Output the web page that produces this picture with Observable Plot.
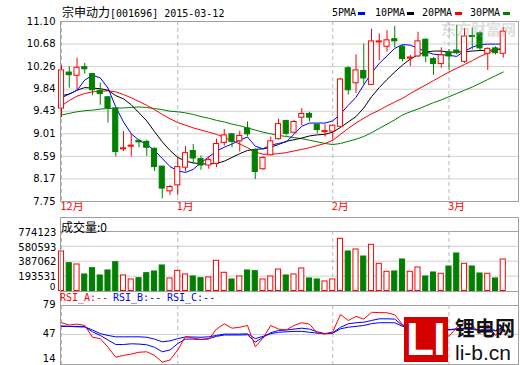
<!DOCTYPE html>
<html><head><meta charset="utf-8">
<script src="https://cdn.jsdelivr.net/npm/d3@7"></script>
<script src="https://cdn.jsdelivr.net/npm/@observablehq/plot@0.6"></script>
<style>
body{margin:0;background:#fff;}
#c{position:relative;width:520px;height:365px;overflow:hidden;background:#fff;}
#c svg{position:absolute;left:0;background:transparent;}
.box{position:absolute;border:1px solid #a0a0a0;box-sizing:border-box;}
.t{position:absolute;white-space:nowrap;font-family:"DejaVu Sans Mono",monospace;font-size:10px;line-height:12px;color:#000;}
.cn{font-family:"Noto Sans CJK SC",sans-serif;font-size:12px;}
.dash{position:absolute;width:7px;height:3px;}
</style></head><body><div id="c"></div>
<script>
// ---- data ----
const monthLabels = ["12月","1月","2月","3月"];
const monthStart = [0, 15, 35, 50];
const open  = [9.48,10.15,10.09,10.25,10.12,9.81,9.69,9.48,8.72,8.77,
               8.88,8.86,8.73,8.40,7.94,8.05,8.38,8.69,8.54,8.42,
               8.45,8.84,9.00,8.87,9.11,8.70,8.35,8.61,8.91,9.25,
               9.03,9.31,9.38,9.18,9.04,9.05,9.14,10.23,9.95,10.18,
               9.92,10.71,10.63,10.77,10.63,10.41,10.45,10.76,10.40,10.31,
               10.52,10.56,10.35,10.83,10.88,10.50,10.60,10.50];
const close = [10.19,10.10,10.24,10.21,9.82,9.75,9.49,8.67,8.74,8.79,
               8.85,8.75,8.39,7.99,8.02,8.39,8.65,8.55,8.42,8.52,
               8.82,8.98,8.86,8.97,9.00,8.30,8.56,8.87,9.19,9.01,
               9.23,9.38,9.31,9.08,9.06,9.16,10.02,9.82,10.19,10.04,
               10.73,10.73,10.75,10.73,10.40,10.43,10.73,10.45,10.31,10.47,
               10.45,10.51,10.82,10.81,10.60,10.59,10.51,10.91];
const high  = [10.28,10.26,10.42,10.32,10.13,9.95,9.70,9.49,9.05,9.01,
               8.90,8.89,8.75,8.40,8.05,8.55,8.77,8.81,8.60,8.58,
               8.91,9.09,9.01,9.06,9.23,8.73,8.58,8.95,9.28,9.26,
               9.26,9.48,9.41,9.20,9.18,9.18,10.04,10.26,10.48,10.68,
               10.96,10.87,10.93,11.01,10.66,10.47,10.90,10.78,10.43,10.61,
               10.58,11.03,10.97,10.98,10.91,10.61,10.63,10.99];
const low   = [9.31,9.86,9.82,10.12,9.72,9.54,9.21,8.58,8.68,8.58,
               8.75,8.59,8.31,7.80,7.86,7.86,8.30,8.44,8.33,8.35,
               8.38,8.78,8.75,8.67,8.95,8.16,8.33,8.60,8.89,8.97,
               9.01,9.16,9.23,9.01,8.95,8.89,9.12,9.73,9.76,9.92,
               9.92,10.37,10.53,10.61,10.35,10.26,10.43,10.33,10.10,10.23,
               10.19,10.48,10.32,10.57,10.56,10.19,10.48,10.42];
const volume = [514000,362000,345000,215000,297000,202000,267000,375000,202000,150000,
                167000,232000,254000,332000,163000,262000,215000,189000,167000,176000,
                393000,237000,150000,189000,267000,258000,150000,189000,280000,202000,
                215000,293000,163000,150000,124000,150000,679000,514000,540000,449000,
                601000,354000,250000,254000,410000,250000,306000,189000,241000,224000,
                319000,488000,354000,319000,228000,224000,163000,410000];
const ma5  = [9.68,9.75,9.82,10.01,10.10,10.05,9.86,9.51,9.23,9.01,
              8.89,8.81,8.70,8.55,8.40,8.32,8.29,8.35,8.47,8.58,
              8.69,8.76,8.82,8.89,8.95,8.78,8.73,8.80,8.83,8.86,
              9.00,9.15,9.21,9.21,9.21,9.25,9.38,9.54,9.69,9.92,
              10.14,10.32,10.46,10.60,10.67,10.66,10.60,10.54,10.49,10.48,
              10.47,10.45,10.55,10.62,10.67,10.68,10.68,10.68];
const ma10 = [9.72,9.75,9.82,9.87,9.86,9.85,9.82,9.72,9.66,9.55,
              9.40,9.25,9.05,8.86,8.70,8.57,8.50,8.47,8.45,8.45,
              8.46,8.50,8.57,8.64,8.70,8.72,8.73,8.76,8.81,8.87,
              8.90,8.93,8.97,8.99,9.00,9.04,9.13,9.23,9.33,9.49,
              9.70,9.87,10.02,10.16,10.29,10.40,10.48,10.53,10.55,10.55,
              10.53,10.53,10.54,10.55,10.56,10.56,10.58,10.59];
const ma20 = [9.53,9.63,9.71,9.76,9.79,9.80,9.81,9.79,9.74,9.68,
              9.61,9.54,9.46,9.37,9.29,9.22,9.17,9.12,9.08,9.04,
              9.00,8.94,8.88,8.82,8.75,8.67,8.63,8.63,8.64,8.66,
              8.69,8.72,8.75,8.79,8.83,8.89,9.00,9.11,9.21,9.30,
              9.38,9.45,9.53,9.60,9.67,9.76,9.84,9.92,10.00,10.08,
              10.16,10.23,10.30,10.37,10.45,10.51,10.57,10.60];
const ma30 = [9.36,9.39,9.42,9.44,9.45,9.47,9.48,9.49,9.49,9.50,
              9.51,9.50,9.48,9.46,9.43,9.42,9.40,9.37,9.33,9.30,
              9.26,9.23,9.19,9.16,9.12,9.08,9.04,9.01,8.98,8.96,
              8.94,8.92,8.89,8.86,8.83,8.81,8.83,8.87,8.91,8.96,
              9.03,9.11,9.19,9.27,9.36,9.42,9.47,9.53,9.59,9.64,
              9.70,9.76,9.82,9.88,9.95,10.02,10.09,10.16];
const rsiA = [60,57.5,58.5,57,44,42.5,33,22,24,25.5,
              27.5,28,24,16.6,19,30,45,43,41.6,42,
              53,58.8,54,55,57,33.5,43,57,53,52,
              57,60,58.5,48.5,47.8,50,69,62.5,67,64,
              71.5,71.2,71,68.8,58,53.3,55.5,52,50,52,
              45,55,60,57,48,58,46,55];
const rsiB = [56.5,56,56,55.5,50,46,41,36,36,36.8,
              36.5,35.7,33,28,30,37,42,42,41.6,42.5,
              45,46.5,46.5,46.5,46.7,38.6,44,49,51.5,52,
              53,54,53,50,48,49,55,58.8,60,60.6,
              62.5,64.3,64.3,64,57,55.5,55,54,53.5,53.3,
              52,53.3,54,53.5,52,53.3,51.5,55];
const rsiC = [56,56,55.5,55.5,52,48,46,44.5,44.5,44.5,
              44.5,44,42,39,40,42.5,44.3,44.3,44,44.5,
              46,47.5,47.5,47.5,47.8,42.5,45,48,49.5,50,
              50.5,50.5,49.5,48.5,47.8,48.5,53.3,55.1,56,57,
              59,60,60,60,56,55,54.5,54,53.5,53.3,
              52.5,53,53,52.6,51.5,52,51,53.3];
const priceTicks = [7.75,8.17,8.59,9.01,9.43,9.84,10.26,10.68,11.10];
const volTicks = [0,193531,387062,580593,774123];
const rsiTicks = [14,47,79];

// ---- build ----
const UP = "#ff0000", DOWN = "#008000";
const bars = open.map((o,i)=>({i, o, c:close[i], h:high[i], l:low[i], v:volume[i], up: close[i] >= open[i]}));
const series = (arr, name) => arr.map((v,i)=>({i, v, name}));
const months = monthStart.map((m,k)=>({i:m, label:monthLabels[k]}));
const xDomain = [(60-61)/7.75, (518-61)/7.75];
const hw = 0.33;
const col = d => d.up ? UP : DOWN;
const container = document.getElementById("c");

const common = {width:520, marginLeft:60, marginRight:2,
  x:{domain:xDomain, axis:null}, color:{type:"identity"}};

const price = Plot.plot({...common, height:216, marginTop:21, marginBottom:15,
  y:{domain:[7.75,11.10], axis:null},
  style:{background:"transparent", overflow:"visible"},
  marks:[
    Plot.ruleY(priceTicks, {stroke:"#d0d0d0"}),
    Plot.ruleX(monthStart, {stroke:"#b8b8b8", strokeDasharray:"4,3"}),
    Plot.line(series(ma30), {x:"i", y:"v", stroke:"#008000", strokeWidth:1}),
    Plot.line(series(ma20), {x:"i", y:"v", stroke:"#ff0000", strokeWidth:1}),
    Plot.line(series(ma10), {x:"i", y:"v", stroke:"#000000", strokeWidth:1}),
    Plot.line(series(ma5),  {x:"i", y:"v", stroke:"#0000ff", strokeWidth:1}),
    Plot.ruleX(bars, {x:"i", y1:"l", y2:"h", stroke:col, strokeWidth:1}),
    Plot.rect(bars, {x1:d=>d.i-hw, x2:d=>d.i+hw, y1:"o", y2:"c", fill:d=>d.up?"#ffffff":DOWN, stroke:col, strokeWidth:1}),
    Plot.text(priceTicks, {y:d=>d, text:d=>d.toFixed(2), frameAnchor:"left", textAnchor:"end", dx:-5,
      fontFamily:"DejaVu Sans", fontSize:10, fill:"#000"}),
    Plot.text(months, {x:"i", text:"label", frameAnchor:"bottom", dy:8, dx:-1, textAnchor:"start",
      fill:"#ff0000", fontFamily:"Noto Sans CJK SC", fontSize:11})
  ]});
price.style.top = "0px";
container.appendChild(price);

const vol = Plot.plot({...common, height:74, marginTop:14, marginBottom:0.5,
  y:{domain:[0,774123], axis:null},
  style:{background:"transparent", overflow:"visible"},
  marks:[
    Plot.ruleY(volTicks.slice(1,4), {stroke:"#d0d0d0"}),
    Plot.ruleY([volTicks[4]], {stroke:"#a0a0a0"}),
    Plot.ruleX(monthStart, {stroke:"#b8b8b8", strokeDasharray:"4,3"}),
    Plot.rect(bars, {x1:d=>d.i-hw, x2:d=>d.i+hw, y1:0, y2:"v", fill:d=>d.up?"#ffffff":DOWN, stroke:col, strokeWidth:1}),
    Plot.text(volTicks.slice(1), {y:d=>d, text:d=>String(d), frameAnchor:"left", textAnchor:"end", dx:-4, dy:1,
      fontFamily:"DejaVu Sans", fontSize:10, fill:"#000", letterSpacing:"1.8px"}),
    Plot.text([0], {y:d=>d, text:d=>String(d), frameAnchor:"left", textAnchor:"end", dx:-5, dy:-4,
      fontFamily:"DejaVu Sans", fontSize:9, fill:"#000"})
  ]});
vol.style.top = "217px";
container.appendChild(vol);

const rsiData = [...series(rsiC,"C"), ...series(rsiB,"B")];
const rsi = Plot.plot({...common, height:74, marginTop:14, marginBottom:1,
  y:{domain:[14,79], axis:null},
  style:{background:"transparent", overflow:"visible"},
  marks:[
    Plot.ruleY([47], {stroke:"#d0d0d0"}),
    Plot.ruleY([79], {stroke:"#a0a0a0"}),
    Plot.ruleX(monthStart, {stroke:"#b8b8b8", strokeDasharray:"4,3"}),
    Plot.line(rsiData, {x:"i", y:"v", z:"name", stroke:"#0000ff", strokeWidth:1}),
    Plot.line(series(rsiA), {x:"i", y:"v", stroke:"#ff0000", strokeWidth:1}),
    Plot.text(rsiTicks.slice(1), {y:d=>d, text:d=>String(d), frameAnchor:"left", textAnchor:"end", dx:-5, dy:-1,
      fontFamily:"DejaVu Sans", fontSize:10, fill:"#000", letterSpacing:"3px"}),
    Plot.text(rsiTicks.slice(0,1), {y:d=>d, text:d=>String(d), frameAnchor:"left", textAnchor:"end", dx:-5, dy:-6,
      fontFamily:"DejaVu Sans", fontSize:10, fill:"#000", letterSpacing:"3px"})
  ]});
rsi.style.top = "291px";
container.appendChild(rsi);

// ---- frames, titles, legend, watermark ----
function add(html){ container.insertAdjacentHTML("beforeend", html); }
add('<div class="t" style="left:441px;top:20px;font-family:\'Noto Sans CJK SC\';font-weight:bold;font-size:15px;line-height:17px;color:rgba(170,170,170,0.4)">东方财富网</div>');
add('<div class="t" style="left:443px;top:38px;font-family:\'DejaVu Sans\';font-size:6px;line-height:7px;color:rgba(170,170,170,0.4)">eastmoney.com</div>');
add('<div class="box" style="left:60px;top:21px;width:459px;height:181px"></div>');
add('<div class="box" style="left:60px;top:217px;width:459px;height:75px"></div>');
add('<div class="box" style="left:60px;top:291px;width:459px;height:74px"></div>');
add('<div class="t" style="left:62px;top:6px"><span class="cn">宗申动力</span>[001696] 2015-03-12</div>');
const legend = [["5PMA",332,358,"#0000ff"],["10PMA",375,407,"#000000"],["20PMA",422,455,"#ff0000"],["30PMA",470,503,"#008000"]];
legend.forEach(([t,x,dx,c])=>{
  add(`<div class="t" style="left:${x}px;top:7px">${t}</div>`);
  add(`<div class="dash" style="left:${dx}px;top:12px;background:${c}"></div>`);
});
add('<div class="t cn" style="left:61px;top:220px;line-height:14px">成交量:0</div>');
add('<div class="t" style="left:60px;top:292px;color:#ff0000">RSI_A:--</div>');
add('<div class="t" style="left:113px;top:292px;color:#0000ff">RSI_B:--</div>');
add('<div class="t" style="left:167px;top:292px;color:#0000ff">RSI_C:--</div>');
// li-b.cn logo
add('<div style="position:absolute;left:404px;top:317px;width:44px;height:45px;background:#d40000;"></div>');
add('<div class="t" style="left:406px;top:313px;font-family:\'Liberation Sans\';font-weight:bold;font-size:46px;line-height:52px;color:#fff;letter-spacing:-1px">LI</div>');
add('<div class="t" style="left:455px;top:317px;font-family:\'Noto Sans CJK SC\';font-weight:bold;font-size:20px;line-height:22px;color:#111">锂电网</div>');
add('<div class="t" style="left:455px;top:342px;font-family:\'Liberation Sans\';font-size:21px;line-height:21px;color:#111">li-b.cn</div>');
</script></body></html>
